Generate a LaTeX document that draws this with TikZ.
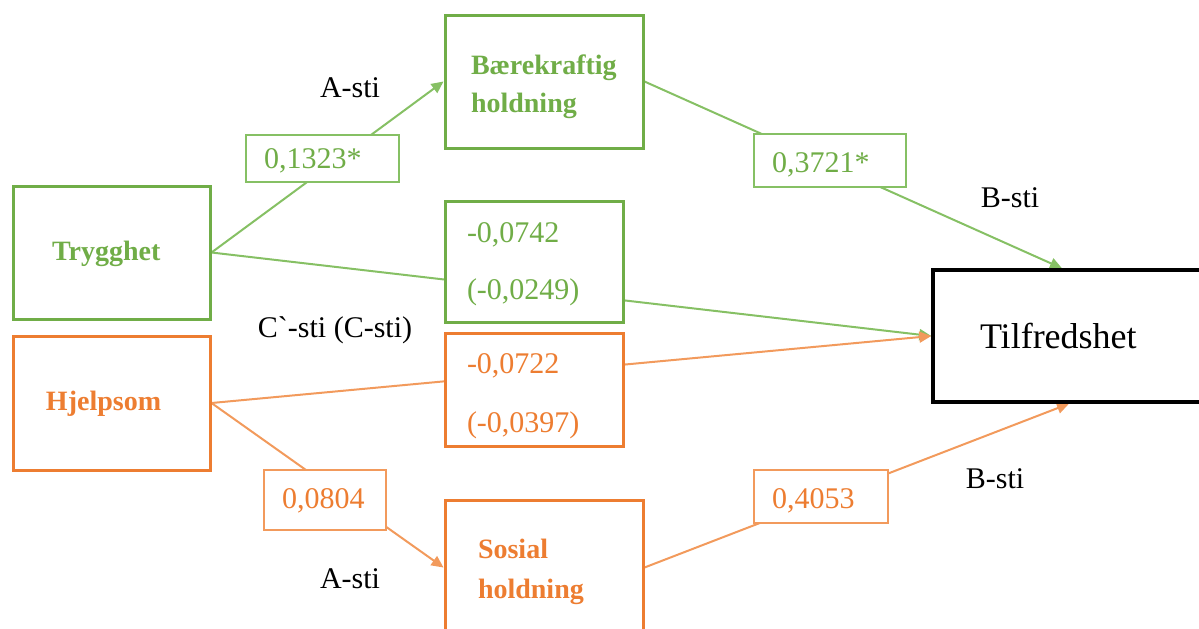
\documentclass[tikz,border=0pt]{standalone}
\usepackage{fontspec}
\setmainfont{Liberation Serif}
\usetikzlibrary{arrows.meta,backgrounds}
\definecolor{grn}{HTML}{70AD47}
\definecolor{grnl}{HTML}{86C064}
\definecolor{org}{HTML}{ED7D31}
\definecolor{orgl}{HTML}{F29A5C}
% extra room above a line, which lowers the text inside a centred box by half of it
\newcommand\roomabove[2]{\raisebox{0pt}[\dimexpr\height+#1\relax][\depth]{#2}}
\begin{document}
\begin{tikzpicture}[x=0.5pt,y=-0.5pt,
  mainbox/.style={draw, line width=1.5pt, fill=white, inner ysep=0pt, align=left,
    font=\bfseries\fontsize{14}{19}\selectfont},
  valbox/.style={draw, line width=0.75pt, fill=white, inner xsep=9pt, inner ysep=0pt,
    align=left, font=\fontsize{15}{18}\selectfont},
  pathlbl/.style={font=\fontsize{15}{18}\selectfont, inner sep=0pt},
  conn/.style={line width=1pt},
  arr/.style={conn, -{Triangle[length=6pt,width=5.5pt]}},
]
\useasboundingbox (0,0) rectangle (1199,628);
\clip (0,0) rectangle (1199,628);

% variable boxes
\node[mainbox, draw=grn, text=grn, minimum height=66.5pt, inner xsep=19.5pt, text width=59.5pt]
  (tryg) at (111.5,252.5) {\roomabove{1pt}{Trygghet}};
\node[mainbox, draw=org, text=org, minimum height=67pt, inner xsep=16.5pt, text width=65.5pt]
  (hjelp) at (111.5,403) {\roomabove{1pt}{Hjelpsom}};
\node[mainbox, draw=grn, text=grn, minimum height=66.5pt, inner xsep=13pt, text width=73pt]
  (baer) at (544,81.5) {\roomabove{5pt}{Bærekraftig}\\holdning};
\node[mainbox, draw=org, text=org, minimum height=67.5pt, inner xsep=16.5pt, text width=66pt,
  font=\bfseries\fontsize{14}{20}\selectfont]
  (sos) at (544,567.5) {\roomabove{4.5pt}{Sosial}\\holdning};
\node[draw, line width=1.7pt, fill=white, minimum height=66pt, inner xsep=23.5pt, inner ysep=0pt,
  text width=89pt, align=left, font=\fontsize{18}{22}\selectfont]
  (tilf) at (1069,336) {Tilfredshet};

% direct-effect boxes
\node[draw=grn, text=grn, line width=1.5pt, fill=white, minimum height=60.5pt, inner xsep=11pt,
  inner ysep=0pt, text width=67pt, align=left, font=\fontsize{15}{28.5}\selectfont]
  (cg) at (534,261.5) {\roomabove{3pt}{-0,0742}\\(-0,0249)};
\node[draw=org, text=org, line width=1.5pt, fill=white, minimum height=56.5pt, inner xsep=11pt,
  inner ysep=0pt, text width=67pt, align=left, font=\fontsize{15}{29.5}\selectfont]
  (co) at (534,389.5) {\roomabove{7pt}{-0,0722}\\(-0,0397)};

% coefficient boxes
\node[valbox, draw=grnl, text=grn, minimum height=23.5pt, text width=58.5pt] (a1) at (322.5,158.5) {\roomabove{2pt}{0,1323*}};
\node[valbox, draw=grnl, text=grn, minimum height=26.5pt, text width=58pt] (b1) at (830,160.5) {\roomabove{4pt}{0,3721*}};
\node[valbox, draw=orgl, text=org, minimum height=30pt, text width=43pt] (a2) at (325,500) {\roomabove{1pt}{0,0804}};
\node[valbox, draw=orgl, text=org, minimum height=26.5pt, text width=49pt] (b2) at (821,496.5) {\roomabove{4pt}{0,4053}};

% path names
\node[pathlbl] (la1) at (350,88) {A-sti};
\node[pathlbl] (lb1) at (1010,198) {B-sti};
\node[pathlbl] (lc) at (335,330) {C\textasciigrave-sti (C-sti)};
\node[pathlbl] (lb2) at (995,479) {B-sti};
\node[pathlbl] (la2) at (350,579) {A-sti};

% connectors
\begin{scope}[on background layer]
  \draw[arr, grnl] (tryg.east) -- (baer.west);
  \draw[arr, grnl] (baer.east) -- ([xshift=-3.5pt]tilf.north);
  \draw[arr, grnl] (tryg.east) -- (tilf.west);
  \draw[arr, orgl] (hjelp.east) -- (tilf.west);
  \draw[arr, orgl] (hjelp.east) -- (sos.west);
  \draw[arr, orgl] (sos.east) -- (tilf.south);
\end{scope}
\end{tikzpicture}
\end{document}
